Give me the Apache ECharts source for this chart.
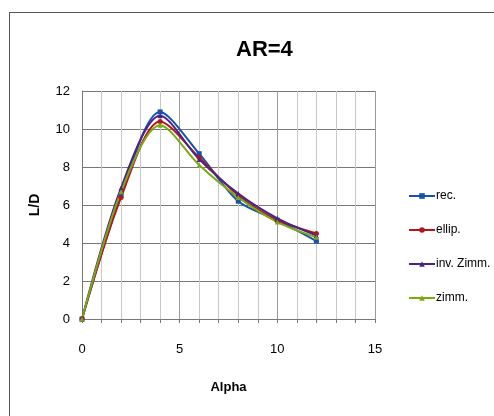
<!DOCTYPE html>
<html>
<head>
<meta charset="utf-8">
<script src="https://cdn.jsdelivr.net/npm/echarts@6/dist/echarts.min.js"></script>
<style>
  html, body { margin: 0; padding: 0; background: #fff; }
  #frame { position: absolute; left: 9px; top: 12px; width: 500px; height: 420px; border: 1px solid #555; }
  #chart { position: absolute; left: 0; top: 0; width: 494px; height: 416px; }
</style>
</head>
<body>
<div id="frame"></div>
<div id="chart"></div>
<script>
const alpha = [0, 2, 4, 6, 8, 10, 12]
const rec = [0, 6.5, 10.9, 8.7, 6.2, 5.2, 4.1]
const ellip = [0, 6.4, 10.4, 8.5, 6.5, 5.2, 4.5]
const invZimm = [0, 6.9, 10.7, 8.4, 6.6, 5.3, 4.4]
const zimm = [0, 6.7, 10.2, 8.1, 6.4, 5.1, 4.3]

const font = '"Liberation Sans", Arial, sans-serif'

function pairs(ys) {
  return alpha.map((x, i) => [x, ys[i]])
}

function line(name, ys, color, symbol) {
  return {
    name: name,
    type: 'line',
    smooth: 0.3,
    symbol: symbol,
    symbolSize: 5,
    showSymbol: true,
    lineStyle: { color: color, width: 2 },
    itemStyle: { color: color },
    data: pairs(ys)
  }
}

const chart = echarts.init(document.getElementById('chart'))
chart.setOption({
  backgroundColor: 'transparent',
  animation: false,
  title: {
    text: 'AR=4',
    left: 231,
    top: 34,
    textStyle: { fontFamily: font, fontSize: 22, fontWeight: 'bold', color: '#000' }
  },
  legend: {
    orient: 'vertical',
    left: 403,
    top: 185,
    itemGap: 22,
    itemWidth: 26,
    itemHeight: 7,
    textStyle: { fontFamily: font, fontSize: 12, color: '#000', padding: [0, 0, 0, -4] },
    data: ['rec.', 'ellip.', 'inv. Zimm.', 'zimm.']
  },
  grid: { left: 82, right: 119, top: 91, bottom: 97 },
  xAxis: {
    type: 'value',
    min: 0,
    max: 15,
    interval: 5,
    name: 'Alpha',
    nameLocation: 'middle',
    nameGap: 62,
    nameTextStyle: { fontFamily: font, fontSize: 13, fontWeight: 'bold', color: '#000' },
    axisLine: { show: true, lineStyle: { color: '#777', width: 1 } },
    axisTick: { show: true, inside: false, length: 4, lineStyle: { color: '#777' } },
    minorTick: { show: true, splitNumber: 5, length: 4, lineStyle: { color: '#777' } },
    axisLabel: { fontFamily: font, fontSize: 13, color: '#000', margin: 24 },
    splitLine: { show: true, lineStyle: { color: '#999', width: 1 } },
    minorSplitLine: { show: true, lineStyle: { color: '#c8c8c8', width: 1 } }
  },
  yAxis: {
    type: 'value',
    min: 0,
    max: 12,
    interval: 2,
    name: 'L/D',
    nameLocation: 'middle',
    nameGap: 40,
    nameRotate: 90,
    nameTextStyle: { fontFamily: font, fontSize: 14, fontWeight: 'bold', color: '#000' },
    axisLine: { show: true, lineStyle: { color: '#777', width: 1 } },
    axisTick: { show: false },
    axisLabel: { fontFamily: font, fontSize: 13, color: '#000', margin: 12 },
    splitLine: { show: true, lineStyle: { color: '#777', width: 1 } }
  },
  series: [
    line('rec.', rec, '#1452ae', 'rect'),
    line('ellip.', ellip, '#b2161a', 'circle'),
    line('inv. Zimm.', invZimm, '#4b2288', 'triangle'),
    line('zimm.', zimm, '#7aaa12', 'triangle')
  ]
})
</script>
</body>
</html>
